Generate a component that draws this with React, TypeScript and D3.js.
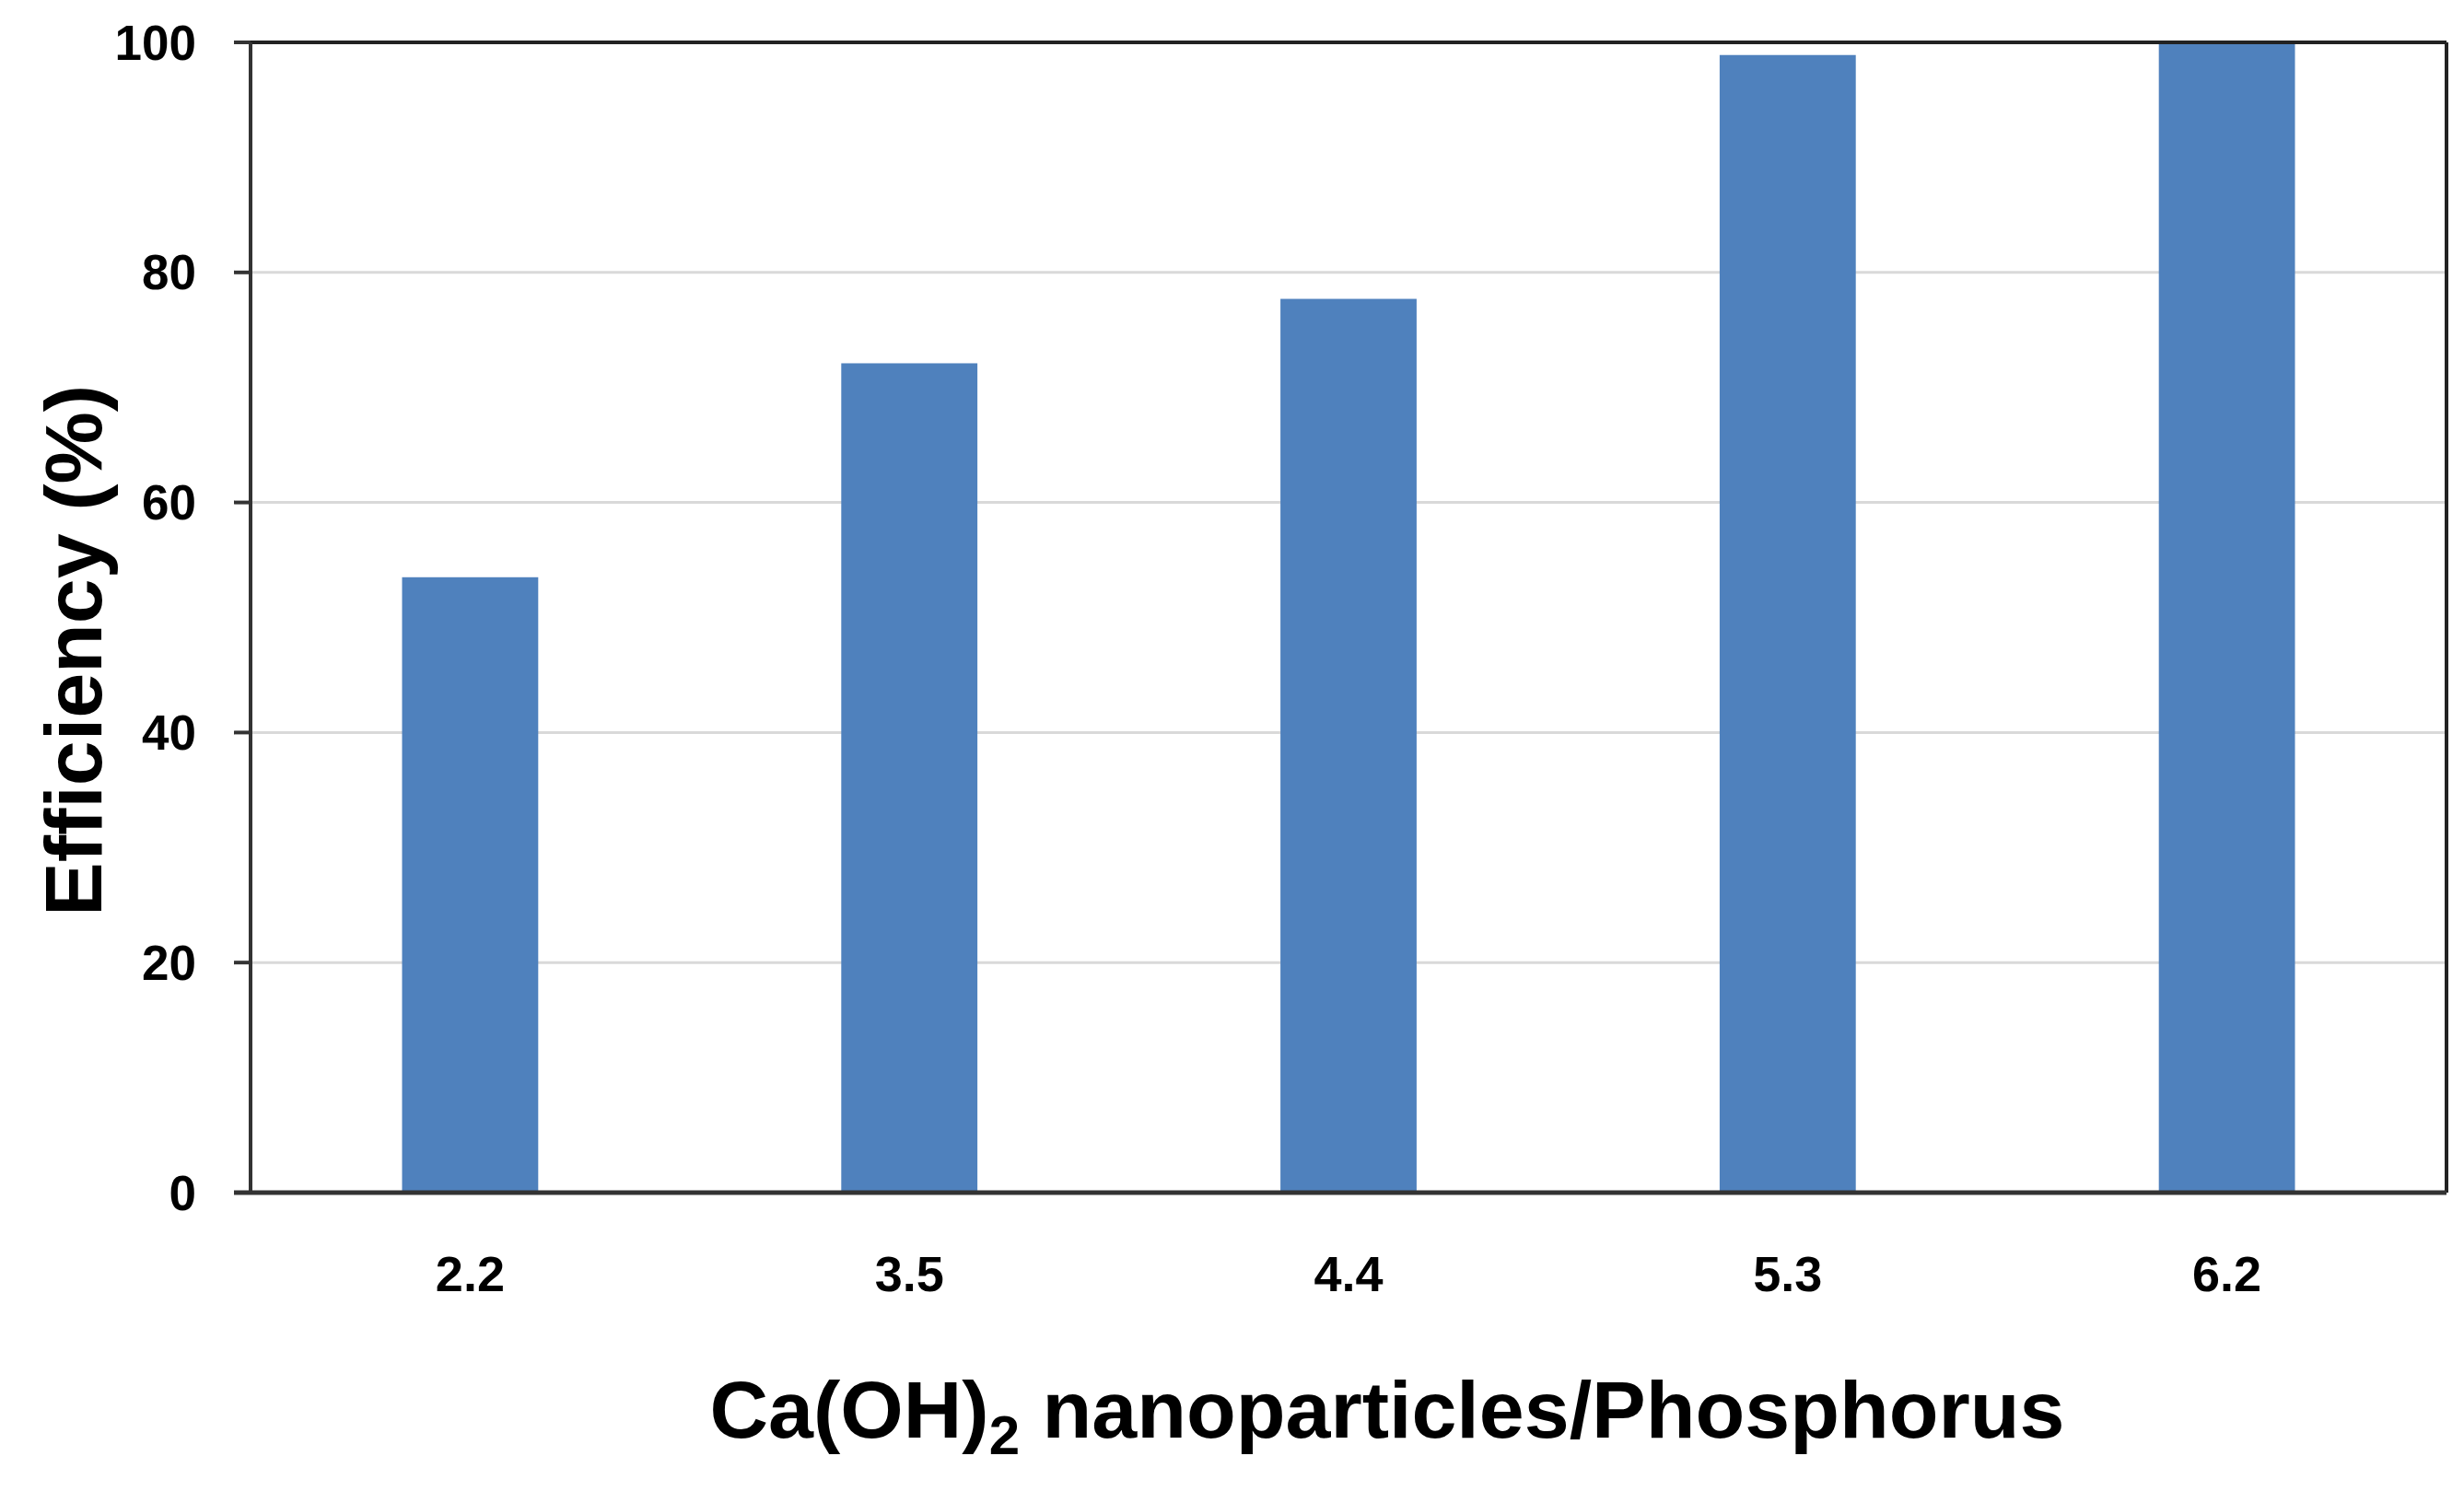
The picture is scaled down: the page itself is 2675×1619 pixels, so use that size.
import React from 'react';
import * as d3 from 'd3';

const ratios = ['2.2', '3.5', '4.4', '5.3', '6.2'];
const efficiency = [53.5, 72.1, 77.7, 98.9, 100];
const yTicks = [0, 20, 40, 60, 80, 100];

const width = 2675;
const height = 1619;
const margin = { top: 46, right: 19, bottom: 324, left: 272 };
const barColor = '#4f81bd';
const font = '"Liberation Sans", Arial, sans-serif';

export default function App() {
  const innerWidth = width - margin.left - margin.right;
  const innerHeight = height - margin.top - margin.bottom;

  const xScale = d3.scaleBand()
    .domain(ratios)
    .range([0, innerWidth])
    .paddingInner(0.69)
    .paddingOuter(0.345);

  const yScale = d3.scaleLinear()
    .domain([0, 100])
    .range([innerHeight, 0]);

  return (
    <svg width={width} height={height}
      style={{ position: 'absolute', left: 0, top: 0, background: '#fff' }}>
      <g transform={`translate(${margin.left},${margin.top})`}>
        {/* grid */}
        {yTicks.filter(t => t > 0 && t < 100).map(t => (
          <line key={t} x1={0} x2={innerWidth} y1={yScale(t)} y2={yScale(t)}
            stroke="#d9d9d9" strokeWidth={3} />
        ))}

        {/* bars */}
        {ratios.map((r, i) => (
          <rect key={r}
            x={xScale(r)}
            y={yScale(efficiency[i])}
            width={xScale.bandwidth()}
            height={innerHeight - yScale(efficiency[i])}
            fill={barColor} />
        ))}

        {/* border top / right */}
        <line x1={0} x2={innerWidth} y1={0} y2={0} stroke="#222" strokeWidth={4} />
        <line x1={innerWidth} x2={innerWidth} y1={0} y2={innerHeight} stroke="#222" strokeWidth={4} />

        {/* left axis */}
        <line x1={0} x2={0} y1={0} y2={innerHeight} stroke="#333" strokeWidth={4} />
        {yTicks.map(t => (
          <g key={t} transform={`translate(0,${yScale(t)})`}>
            <line x1={-18} x2={0} stroke="#333" strokeWidth={4} />
            <text x={-59} dy="0.35em" textAnchor="end"
              fontFamily={font} fontWeight="bold" fontSize={53} fill="#000">
              {t}
            </text>
          </g>
        ))}

        {/* bottom axis */}
        <line x1={-18} x2={innerWidth} y1={innerHeight} y2={innerHeight} stroke="#333" strokeWidth={5} />
        {ratios.map(r => (
          <text key={r} x={xScale(r) + xScale.bandwidth() / 2} y={innerHeight + 107}
            textAnchor="middle" fontFamily={font} fontWeight="bold" fontSize={54} fill="#000">
            {r}
          </text>
        ))}

        {/* axis titles */}
        <text transform={`translate(${110 - margin.left},${innerHeight / 2 + 36}) rotate(-90)`}
          textAnchor="middle" fontFamily={font} fontWeight="bold" fontSize={88} fill="#000">
          Efficiency (%)
        </text>
        <text x={1506 - margin.left} y={1561 - margin.top}
          textAnchor="middle" fontFamily={font} fontWeight="bold" fontSize={88} fill="#000">
          Ca(OH)<tspan fontSize={60} dy={18}>2</tspan><tspan dy={-18}> nanoparticles/Phosphorus</tspan>
        </text>
      </g>
    </svg>
  );
}
